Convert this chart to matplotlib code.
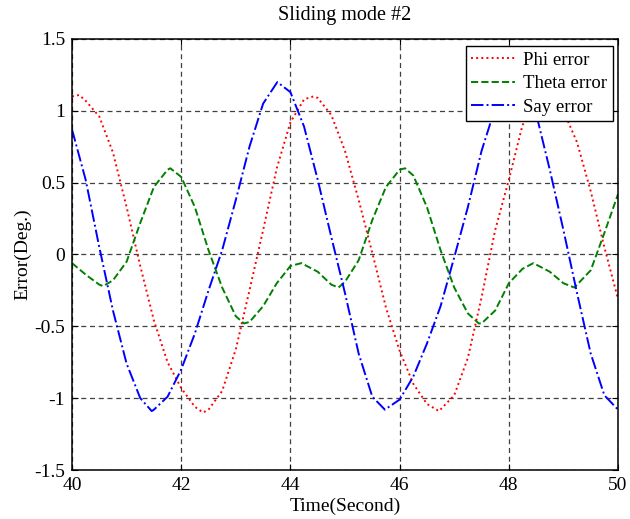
import numpy as np
import matplotlib
matplotlib.use("Agg")
import matplotlib.pyplot as plt

# values (time in s, error in deg)
phi_t = [40, 40.13, 40.25, 40.5, 40.75, 41, 41.25, 41.5, 41.75, 42, 42.25, 42.4, 42.5,
         42.75, 43, 43.25, 43.5, 43.75, 44, 44.25, 44.42, 44.5, 44.75, 45, 45.25, 45.5,
         45.75, 46, 46.25, 46.5, 46.72, 47, 47.25, 47.5, 47.75, 48, 48.25, 48.5, 48.7,
         48.75, 49, 49.25, 49.5, 49.75, 50]
phi_v = [1.10, 1.11, 1.07, 0.96, 0.71, 0.33, -0.08, -0.46, -0.75, -0.93, -1.06, -1.10, -1.08,
         -0.95, -0.66, -0.25, 0.17, 0.60, 0.92, 1.08, 1.10, 1.09, 0.97, 0.72, 0.38, 0.01,
         -0.37, -0.67, -0.90, -1.04, -1.09, -0.98, -0.72, -0.30, 0.17, 0.52, 0.90, 1.06, 1.10,
         1.09, 1.00, 0.78, 0.44, 0.05, -0.31]

theta_t = [40, 40.25, 40.5, 40.57, 40.75, 41, 41.25, 41.5, 41.75, 41.8, 42, 42.25, 42.5,
           42.75, 43, 43.15, 43.25, 43.5, 43.75, 44, 44.2, 44.5, 44.75, 44.88, 45, 45.25,
           45.5, 45.75, 46, 46.1, 46.25, 46.5, 46.75, 47, 47.25, 47.45, 47.5, 47.75, 48,
           48.25, 48.45, 48.75, 49, 49.2, 49.5, 49.75, 50]
theta_v = [-0.06, -0.14, -0.21, -0.22, -0.18, -0.05, 0.22, 0.47, 0.59, 0.60, 0.54, 0.33, 0.03,
           -0.23, -0.43, -0.48, -0.47, -0.36, -0.20, -0.08, -0.06, -0.12, -0.21, -0.23, -0.19, -0.04,
           0.24, 0.47, 0.59, 0.60, 0.55, 0.33, 0.03, -0.23, -0.41, -0.48, -0.48, -0.39, -0.20,
           -0.10, -0.06, -0.12, -0.20, -0.23, -0.11, 0.15, 0.42]

say_t = [40, 40.25, 40.5, 40.75, 41, 41.25, 41.46, 41.5, 41.75, 42, 42.25, 42.5, 42.75,
         43, 43.25, 43.5, 43.76, 44, 44.25, 44.5, 44.75, 45, 45.25, 45.5, 45.73, 46, 46.25,
         46.5, 46.75, 47, 47.25, 47.5, 47.75, 48.07, 48.25, 48.5, 48.75, 49, 49.25, 49.5,
         49.75, 50]
say_v = [0.87, 0.52, 0.05, -0.39, -0.76, -1.00, -1.09, -1.08, -0.99, -0.80, -0.55, -0.25, 0.03,
         0.38, 0.75, 1.05, 1.20, 1.13, 0.89, 0.52, 0.12, -0.27, -0.69, -0.99, -1.08, -1.01, -0.85,
         -0.62, -0.36, -0.02, 0.33, 0.72, 1.02, 1.20, 1.16, 0.98, 0.59, 0.17, -0.27, -0.69,
         -0.98, -1.08]

x_ticks = [40, 42, 44, 46, 48, 50]
y_ticks = [-1.5, -1, -0.5, 0, 0.5, 1, 1.5]
y_tick_labels = ["-1.5", "-1", "-0.5", "0", "0.5", "1", "1.5"]

plt.rcParams["font.family"] = ["Liberation Serif", "DejaVu Serif"]
plt.rcParams["font.size"] = 14

fig = plt.figure(figsize=(6.3, 5.19), dpi=100)
ax = fig.add_axes([0.1143, 0.0944, 0.8667, 0.8305])

ax.plot(phi_t, phi_v, color="#ff0000", linestyle=":", lw=1.4, label="Phi error")
ax.plot(theta_t, theta_v, color="#008000", linestyle="--", lw=1.4, label="Theta error")
ax.plot(say_t, say_v, color="#0000ff", linestyle="-.", lw=1.4, label="Say error")

ax.set_xlim(40, 50)
ax.set_ylim(-1.5, 1.5)
ax.set_xticks(x_ticks)
ax.set_yticks(y_ticks)
ax.set_yticklabels(y_tick_labels)
ax.grid(True, color="0.25", linestyle=(0, (4, 3)), lw=0.9)
ax.set_axisbelow(True)
ax.tick_params(direction="in", top=True, right=True, length=4, pad=5)
for s in ax.spines.values():
    s.set_linewidth(1.1)

ax.set_title("Sliding mode #2", fontsize=14.5, pad=14)
ax.set_xlabel("Time(Second)", labelpad=3)
ax.set_ylabel("Error(Deg.)", labelpad=2)

leg = ax.legend(loc="upper right", bbox_to_anchor=(0.99, 0.983), fancybox=False,
                framealpha=1, edgecolor="k", borderaxespad=0.0, handlelength=2.3,
                handletextpad=0.45, borderpad=0.3, labelspacing=0.33, fontsize=13.5)
leg.get_frame().set_linewidth(1.0)

fig.savefig("out.png", dpi=100)
